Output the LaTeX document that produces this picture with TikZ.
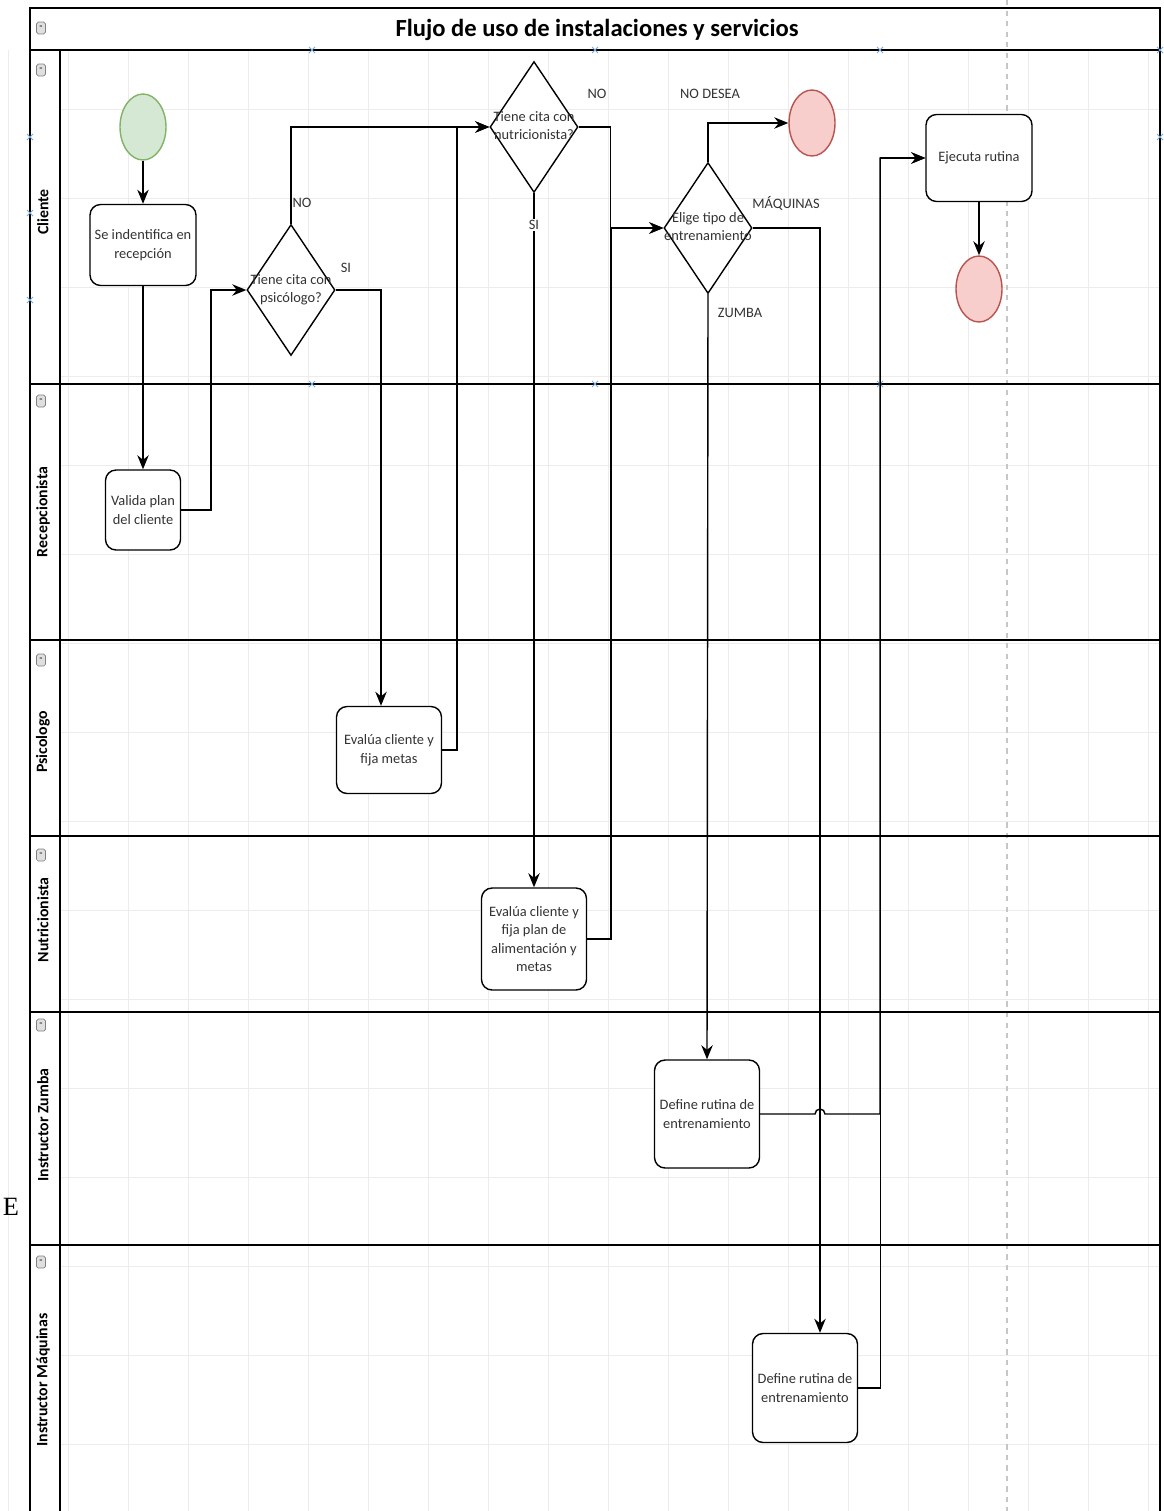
\documentclass[tikz,border=0pt]{standalone}
\usepackage{fontspec}
\setmainfont{Carlito}
\newfontfamily\strayfont{Liberation Serif}
\usetikzlibrary{shapes.geometric,arrows.meta}
\definecolor{StartGreen}{RGB}{213,232,212}
\definecolor{StartLine}{RGB}{130,179,102}
\definecolor{EndRed}{RGB}{248,206,204}
\definecolor{EndLine}{RGB}{184,84,80}
\definecolor{TextGray}{RGB}{51,51,51}
\definecolor{GridGray}{RGB}{236,236,236}
\definecolor{HandleBlue}{RGB}{120,170,215}
\tikzstyle{task} = [rectangle, rounded corners=6pt, minimum width=2.1cm, minimum height=1.7cm, inner sep=2pt, align=center, draw=black, fill=white, thick, text=TextGray, font=\fontsize{8.2}{10.5}\selectfont]
\tikzstyle{decision} = [diamond, minimum width=1.76cm, minimum height=2.62cm, inner sep=0pt, draw=black, fill=white, thick, text=TextGray, font=\fontsize{8.2}{10.5}\selectfont]
\tikzstyle{startev} = [ellipse, minimum width=0.92cm, minimum height=1.32cm, draw=StartLine, fill=StartGreen, thick]
\tikzstyle{endev} = [ellipse, minimum width=0.92cm, minimum height=1.32cm, draw=EndLine, fill=EndRed, thick]
\tikzstyle{arrow} = [thick, -{Stealth[length=8pt,width=6.5pt]}]
\tikzstyle{flowlabel} = [text=TextGray, font=\fontsize{8.2}{10}\selectfont, inner sep=1pt]
\tikzstyle{lanelabel} = [rotate=90, font=\bfseries\fontsize{9}{10}\selectfont]
\tikzstyle{lane} = [line width=1.1pt]
\tikzstyle{collapse} = [rectangle, rounded corners=1pt, draw=gray, fill=gray!25, minimum width=0.18cm, minimum height=0.24cm, inner sep=0pt, font=\fontsize{6}{6}\selectfont]

\begin{document}
\begin{tikzpicture}[x=0.02cm, y=-0.02cm]
\useasboundingbox (0,0) rectangle (1163,1511);

% Rejilla
\foreach \gx in {8,68,...,1160} \draw[GridGray, line width=0.4pt] (\gx,50) -- (\gx,1511);
\foreach \gy in {109,198,...,1511} \draw[GridGray, line width=0.4pt] (60,\gy) -- (1160,\gy);
\draw[gray!45, dashed, line width=0.6pt] (1007,0) -- (1007,1511);

% Marco y carriles
\draw[lane] (30,1511) -- (30,8) -- (1160,8) -- (1160,1511);
\draw[lane] (30,50) -- (1160,50);
\draw[lane] (60,50) -- (60,1511);
\draw[lane] (30,384) -- (1160,384);
\draw[lane] (30,640) -- (1160,640);
\draw[lane] (30,836) -- (1160,836);
\draw[lane] (30,1012) -- (1160,1012);
\draw[lane] (30,1245) -- (1160,1245);

% Titulo
\node (title) at (597,30) {\bfseries\fontsize{14}{16}\selectfont Flujo de uso de instalaciones y servicios};

% Iconos de carril
\node (ic0) [collapse] at (41,28) {-};
\node (ic1) [collapse] at (41,70) {-};
\node (ic2) [collapse] at (41,401) {-};
\node (ic3) [collapse] at (41,660) {-};
\node (ic4) [collapse] at (41,855) {-};
\node (ic5) [collapse] at (41,1025) {-};
\node (ic6) [collapse] at (41,1262) {-};

% Nombres de carril
\node (lcliente) [lanelabel] at (43,212) {Cliente};
\node (lrecep) [lanelabel] at (43,512) {Recepcionista};
\node (lpsic) [lanelabel] at (43,742) {Psicologo};
\node (lnutri) [lanelabel] at (43,920) {Nutricionista};
\node (lzumba) [lanelabel] at (43,1125) {Instructor Zumba};
\node (lmaq) [lanelabel] at (43,1380) {Instructor Máquinas};

% Marcas de seleccion
\foreach \hx/\hy in {312/50,595/50,880/50,312/384,595/384,880/384,30/137,30/213,30/300,1160/50,1160/137}
  \draw[HandleBlue, line width=0.5pt] (\hx,\hy) +(-3,-3) -- +(3,3) +(-3,3) -- +(3,-3);

% Cliente
\node (start) [startev] at (143,127) {};
\node (ident) [task, minimum width=2.12cm, minimum height=1.62cm] at (143,245) {Se indentifica en\\recepción};
\node (dpsic) [decision] at (291,290) {\makebox[0pt]{\begin{tabular}{@{}c@{}}Tiene cita con\\psicólogo?\end{tabular}}};
\node (dnutri) [decision] at (534,127) {\makebox[0pt]{\begin{tabular}{@{}c@{}}Tiene cita con\\nutricionista?\end{tabular}}};
\node (delige) [decision] at (708,228) {\makebox[0pt]{\begin{tabular}{@{}c@{}}Elige tipo de\\entrenamiento\end{tabular}}};
\node (endno) [endev] at (812,123) {};
\node (ejecuta) [task, minimum width=2.12cm, minimum height=1.74cm] at (979,158) {Ejecuta rutina};
\node (endfin) [endev] at (979,289) {};

% Recepcionista
\node (valida) [task, minimum width=1.5cm, minimum height=1.6cm] at (143,510) {Valida plan\\del cliente};

% Psicologo
\node (evalpsic) [task, minimum height=1.74cm] at (389,750) {Evalúa cliente y\\fija metas};

% Nutricionista
\node (evalnutri) [task, minimum height=2.04cm] at (534,939) {Evalúa cliente y\\fija plan de\\alimentación y\\metas};

% Instructores
\node (defzumba) [task, minimum height=2.16cm] at (707,1114) {Define rutina de\\entrenamiento};
\node (defmaq) [task, minimum height=2.18cm] at (805,1388) {Define rutina de\\entrenamiento};

% Texto suelto
\node (stray) at (11,1207) {\strayfont\fontsize{15}{15}\selectfont E};

% Flechas
\coordinate (jmp) at (820,1114);
\draw [arrow] (start) -- (ident);
\draw [arrow] (ident) -- (valida);
\draw [arrow] (valida.east) -- ++(30,0) |- (dpsic.west);
\draw [arrow] (dpsic.north) |- (dnutri.west);
\draw [arrow] (dpsic.east) -| ([xshift=-0.16cm]evalpsic.north);
\draw [arrow] (evalpsic.east) -- ++(15,0) |- (dnutri.west);
\draw [arrow] (dnutri.south) -- (evalnutri.north);
\draw [arrow] (dnutri.east) -- ++(32,0) |- (delige.west);
\draw [arrow] (evalnutri.east) -- ++(24,0) |- (delige.west);
\draw [arrow] (delige.north) |- (endno.west);
\draw [arrow] (delige.east) -| ([xshift=0.3cm]defmaq.north);
\draw [arrow] (delige.south) -- (defzumba.north);
\draw [arrow] (defzumba.east) -- ([xshift=-0.1cm]jmp) arc[start angle=180, end angle=0, radius=0.1cm] -- ++(55,0) |- (ejecuta.west);
\draw [arrow] (defmaq.east) -- ++(22,0) |- (ejecuta.west);
\draw [arrow] (ejecuta) -- (endfin);

% Etiquetas
\node (lno1) [flowlabel] at (302,203) {NO};
\node (lsi1) [flowlabel] at (346,268) {SI};
\node (lno2) [flowlabel] at (597,94) {NO};
\node (lsi2) [flowlabel, fill=white] at (534,225) {SI};
\node (lnodesea) [flowlabel] at (710,94) {NO DESEA};
\node (lmaqs) [flowlabel] at (786,203) {MÁQUINAS};
\node (lzum) [flowlabel] at (740,313) {ZUMBA};

\end{tikzpicture}
\end{document}
